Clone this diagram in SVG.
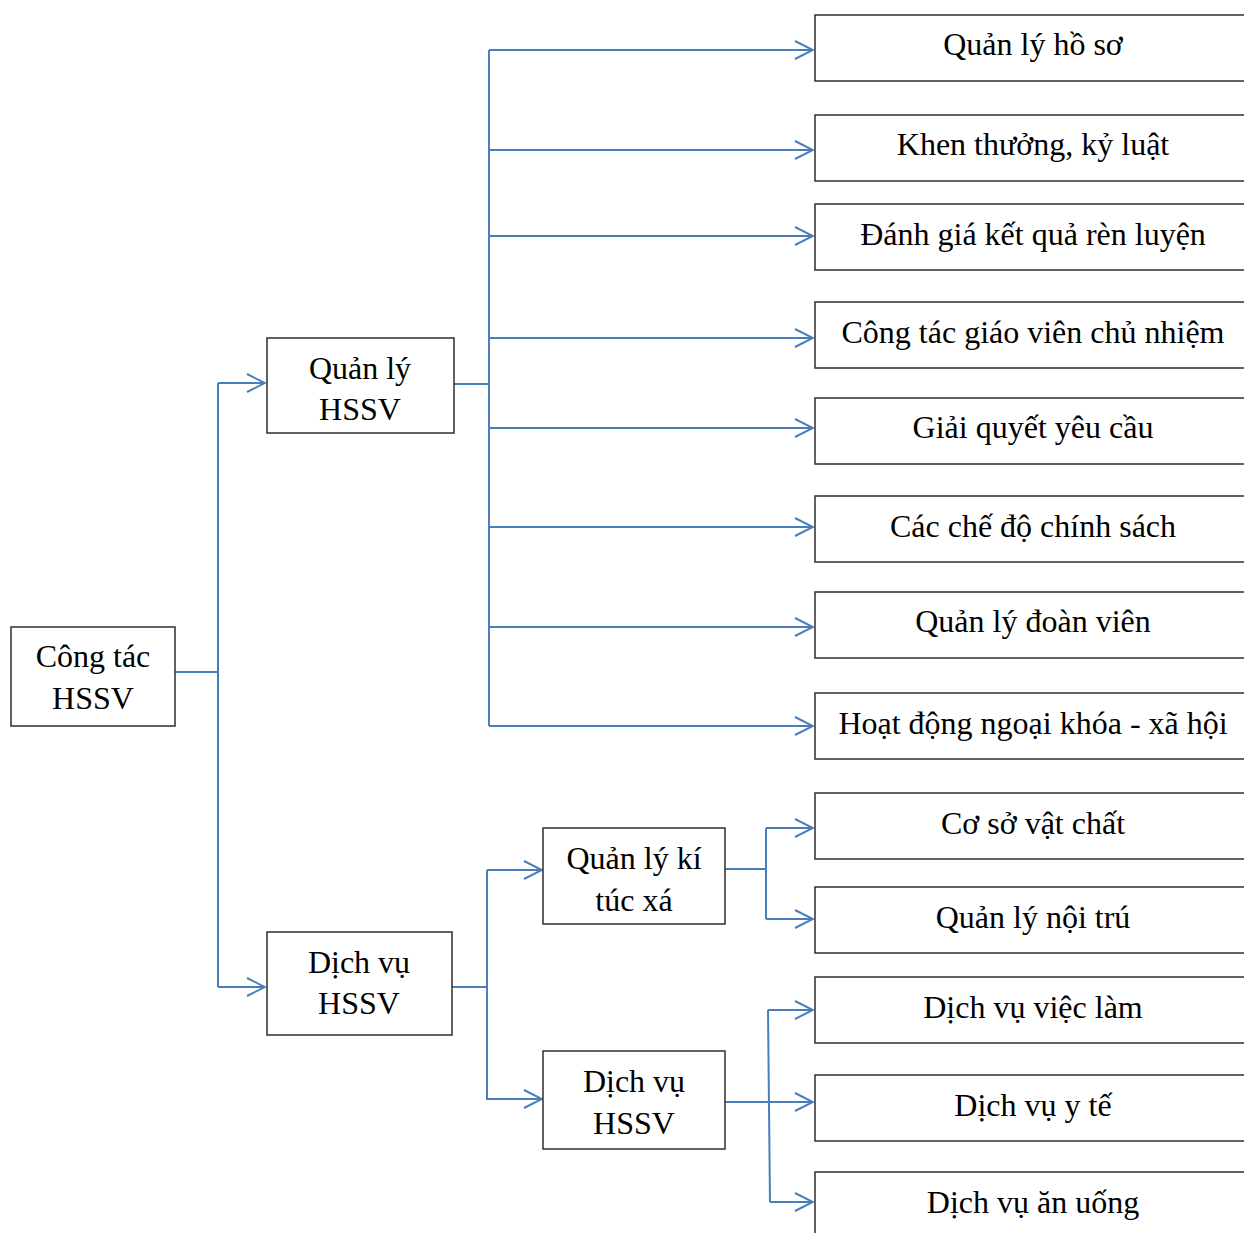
<svg xmlns="http://www.w3.org/2000/svg" width="1244" height="1233" viewBox="0 0 1244 1233">
<defs>
<style>
.box{fill:#fff;stroke:#2e2e2e;stroke-width:1.5}
.t{font-family:"Liberation Serif","Times New Roman",serif;font-size:32px;fill:#000;text-anchor:middle}
.c{fill:none;stroke:#4a7ebb;stroke-width:2}
</style>
<marker id="ah" viewBox="0 0 20 20" refX="19" refY="10" markerWidth="20" markerHeight="20" markerUnits="userSpaceOnUse" orient="auto">
<path d="M1,1 L19,10 L1,19" fill="none" stroke="#4a7ebb" stroke-width="2"/>
</marker>
</defs>
<rect width="1244" height="1233" fill="#fff"/>
<g id="connectors">
<path class="c" d="M175,672 H218"/>
<path class="c" d="M218,383 V987"/>
<path class="c" d="M218,383 H265" marker-end="url(#ah)"/>
<path class="c" d="M218,987 H265" marker-end="url(#ah)"/>
<path class="c" d="M454,384 H489"/>
<path class="c" d="M489,50 V726"/>
<path class="c" d="M489,50 H813" marker-end="url(#ah)"/>
<path class="c" d="M489,150 H813" marker-end="url(#ah)"/>
<path class="c" d="M489,236 H813" marker-end="url(#ah)"/>
<path class="c" d="M489,338 H813" marker-end="url(#ah)"/>
<path class="c" d="M489,428 H813" marker-end="url(#ah)"/>
<path class="c" d="M489,527 H813" marker-end="url(#ah)"/>
<path class="c" d="M489,627 H813" marker-end="url(#ah)"/>
<path class="c" d="M489,726 H813" marker-end="url(#ah)"/>
<path class="c" d="M452,987 H487"/>
<path class="c" d="M487,870 V1100"/>
<path class="c" d="M487,870 H542" marker-end="url(#ah)"/>
<path class="c" d="M487,1099 H542" marker-end="url(#ah)"/>
<path class="c" d="M725,869 H766"/>
<path class="c" d="M766,828 V919"/>
<path class="c" d="M766,828 H813" marker-end="url(#ah)"/>
<path class="c" d="M766,919 H813" marker-end="url(#ah)"/>
<path class="c" d="M725,1102 H813" marker-end="url(#ah)"/>
<path class="c" d="M768,1010 L770,1202"/>
<path class="c" d="M768,1010 H813" marker-end="url(#ah)"/>
<path class="c" d="M770,1202 H813" marker-end="url(#ah)"/>
</g>
<g id="n-root"><rect class="box" x="11" y="627" width="164" height="99"/><text class="t" x="93" y="667">Công tác</text><text class="t" x="93" y="709">HSSV</text></g>
<g id="n-qlhssv"><rect class="box" x="267" y="338" width="187" height="95"/><text class="t" x="360" y="379">Quản lý</text><text class="t" x="360" y="420">HSSV</text></g>
<g id="n-dvhssv"><rect class="box" x="267" y="932" width="185" height="103"/><text class="t" x="359" y="973">Dịch vụ</text><text class="t" x="359" y="1014">HSSV</text></g>
<g id="n-ktx"><rect class="box" x="543" y="828" width="182" height="96"/><text class="t" x="634" y="869">Quản lý kí</text><text class="t" x="634" y="911">túc xá</text></g>
<g id="n-dvhssv2"><rect class="box" x="543" y="1051" width="182" height="98"/><text class="t" x="634" y="1092">Dịch vụ</text><text class="t" x="634" y="1134">HSSV</text></g>
<g id="n1"><rect class="box" x="815" y="15" width="440" height="66"/><text class="t" x="1033" y="55">Quản lý hồ sơ</text></g>
<g id="n2"><rect class="box" x="815" y="115" width="440" height="66"/><text class="t" x="1033" y="155">Khen thưởng, kỷ luật</text></g>
<g id="n3"><rect class="box" x="815" y="204" width="440" height="66"/><text class="t" x="1033" y="245">Đánh giá kết quả rèn luyện</text></g>
<g id="n4"><rect class="box" x="815" y="302" width="440" height="66"/><text class="t" x="1033" y="343">Công tác giáo viên chủ nhiệm</text></g>
<g id="n5"><rect class="box" x="815" y="398" width="440" height="66"/><text class="t" x="1033" y="438">Giải quyết yêu cầu</text></g>
<g id="n6"><rect class="box" x="815" y="496" width="440" height="66"/><text class="t" x="1033" y="537">Các chế độ chính sách</text></g>
<g id="n7"><rect class="box" x="815" y="592" width="440" height="66"/><text class="t" x="1033" y="632">Quản lý đoàn viên</text></g>
<g id="n8"><rect class="box" x="815" y="693" width="440" height="66"/><text class="t" x="1033" y="734">Hoạt động ngoại khóa - xã hội</text></g>
<g id="n9"><rect class="box" x="815" y="793" width="440" height="66"/><text class="t" x="1033" y="834">Cơ sở vật chất</text></g>
<g id="n10"><rect class="box" x="815" y="887" width="440" height="66"/><text class="t" x="1033" y="928">Quản lý nội trú</text></g>
<g id="n11"><rect class="box" x="815" y="977" width="440" height="66"/><text class="t" x="1033" y="1018">Dịch vụ việc làm</text></g>
<g id="n12"><rect class="box" x="815" y="1075" width="440" height="66"/><text class="t" x="1033" y="1116">Dịch vụ y tế</text></g>
<g id="n13"><rect class="box" x="815" y="1172" width="440" height="80"/><text class="t" x="1033" y="1213">Dịch vụ ăn uống</text></g>
</svg>
